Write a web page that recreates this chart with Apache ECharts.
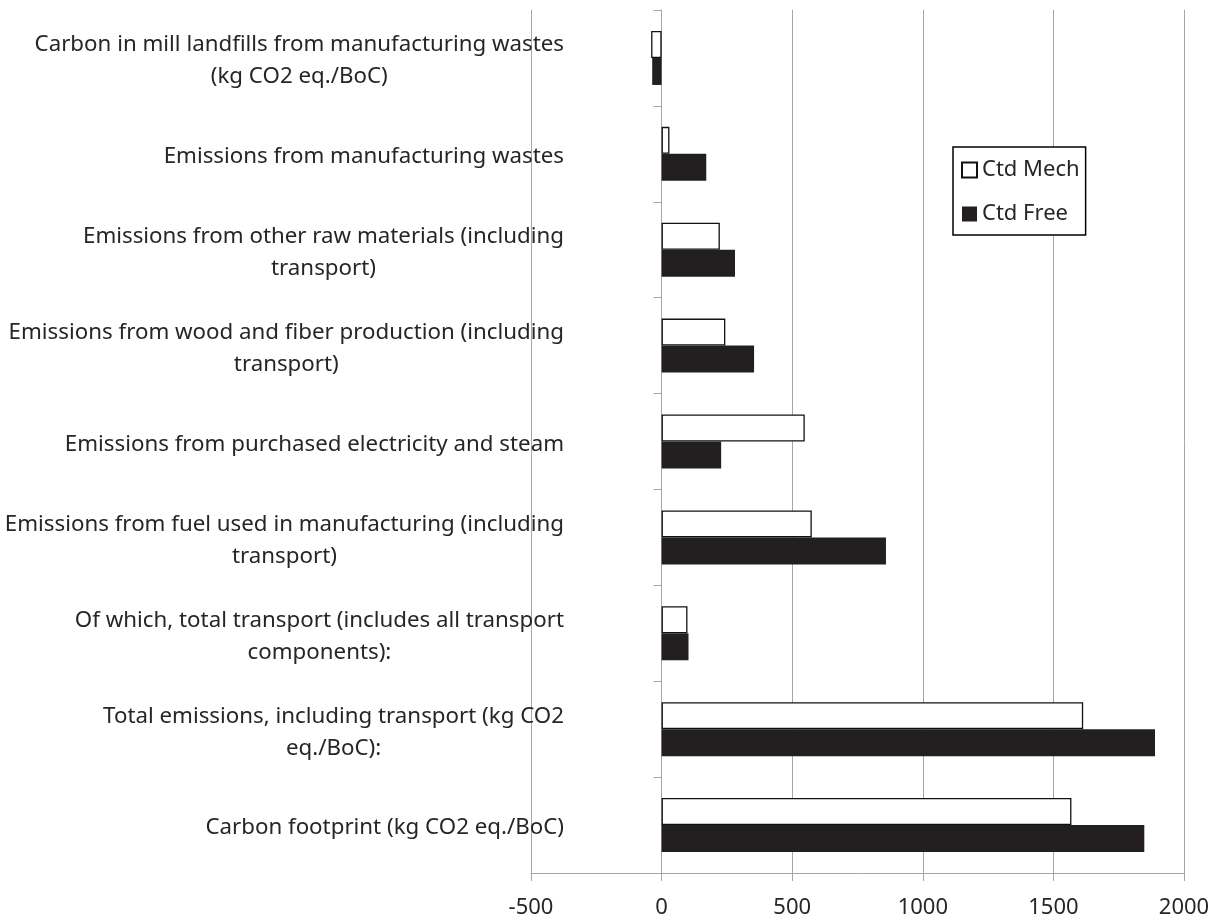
<!DOCTYPE html>
<html><head><meta charset="utf-8">
<script src="https://cdn.jsdelivr.net/npm/echarts@6/dist/echarts.min.js"></script>
<style>html,body{margin:0;padding:0;background:#fff}#c{width:1221px;height:920px}</style>
</head><body><div id="c"></div>
<script>
const categories = [
  "Carbon in mill landfills from manufacturing wastes\n(kg CO2 eq./BoC)",
  "Emissions from manufacturing wastes",
  "Emissions from other raw materials (including\ntransport)",
  "Emissions from wood and fiber production (including\ntransport)",
  "Emissions from purchased electricity and steam",
  "Emissions from fuel used in manufacturing (including\ntransport)",
  "Of which, total transport (includes all transport\ncomponents):",
  "Total emissions, including transport (kg CO2\neq./BoC):",
  "Carbon footprint (kg CO2 eq./BoC)"
];
const seriesNames = ["Ctd Mech", "Ctd Free"];
const ctdMech = [-40, 30, 223, 244, 548, 575, 99, 1614, 1569];
const ctdFree = [-36, 171, 281, 354, 228, 859, 103, 1889, 1848];
const xMin = -500, xMax = 2000, xInterval = 500;

const FONT = '"Noto Sans"';
const FS = 22;
const FSY = 22.3;
const TXT = '#262626';
const GRID = '#a6a6a6';

const chart = echarts.init(document.getElementById('c'), null, {renderer: 'canvas'});
chart.setOption({
  animation: false,
  backgroundColor: '#fff',
  grid: {left: 531, right: 37, top: 10, bottom: 47, containLabel: false, outerBoundsMode: 'none'},
  legend: {
    orient: 'vertical', left: 953, top: 147,
    padding: [12, 6, 10, 8], itemGap: 22,
    itemWidth: 15, itemHeight: 15, icon: 'rect',
    borderColor: '#000', borderWidth: 1.5, backgroundColor: '#fff',
    textStyle: {fontFamily: FONT, fontSize: FS, color: TXT},
    data: seriesNames
  },
  xAxis: {
    type: 'value', min: xMin, max: xMax, interval: xInterval,
    axisLine: {show: true, onZero: false, lineStyle: {color: GRID, width: 1}},
    axisTick: {show: true, length: 8, lineStyle: {color: GRID}},
    splitLine: {show: true, lineStyle: {color: GRID, width: 1}},
    axisLabel: {fontFamily: FONT, fontSize: FS, color: TXT, margin: 24, formatter: v => String(v)}
  },
  yAxis: {
    type: 'category', inverse: true, data: categories,
    axisLine: {show: true, onZero: true, lineStyle: {color: GRID, width: 1}},
    axisTick: {show: true, length: 8, lineStyle: {color: GRID}},
    axisLabel: {
      interval: 0, margin: -33, align: 'right', padding: [6, 0, 0, 0],
      fontFamily: FONT, fontSize: FSY, color: TXT, lineHeight: 32,
      formatter: v => v.split('\n').map(l => '{c|' + l + '}').join('\n'),
      rich: {c: {align: 'center', fontFamily: FONT, fontSize: FSY, color: TXT, lineHeight: 32}}
    }
  },
  series: [
    {name: seriesNames[0], type: 'bar', data: ctdMech, barWidth: 27, barGap: '0%',
     itemStyle: {color: '#fff', borderColor: '#111', borderWidth: 1.3}},
    {name: seriesNames[1], type: 'bar', data: ctdFree, barWidth: 27, barGap: '0%',
     itemStyle: {color: '#231f20'}}
  ]
});
</script>
</body></html>
